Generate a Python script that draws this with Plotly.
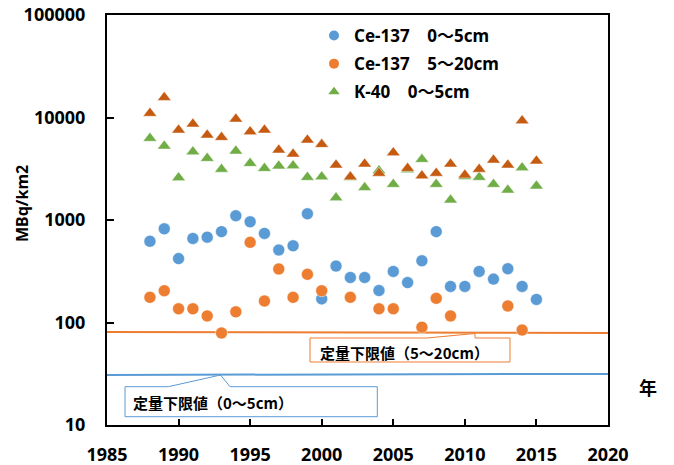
import plotly.graph_objects as go

# ---------------- data ----------------
years = list(range(1988, 2016))

cs137_0_5 = [620, 820, 420, 660, 680, 770, 1100, 960, 740, 510, 560, 1150, 170, 355,
             275, 275, 205, 315, 245, 400, 770, 225, 225, 315, 265, 335, 225, 168]

cs137_5_20 = [176, 204, 136, 136, 116, 79, 127, 605, 162, 333, 176, 295, 204, None,
              176, None, 136, 136, None, 90, 172, 116, None, None, None, 145, 84.5, None]

k40_0_5 = [6270, 5270, 2590, 4630, 4000, 3130, 4710, 3570, 3190, 3370, 3390, 2610, 2640, 1650,
           2600, 2070, 3030, 2230, 3100, 3910, 2230, 1570, 2650, 2610, 2230, 1960, 3240, 2150]

k40_5_20 = [11000, 15700, 7550, 8650, 6750, 6400, 9660, 7280, 7550, 4820, 4400, 6030, 5470, 3440,
            2640, 3520, 2860, 4540, 3190, 2700, 2860, 3520, 2750, 3130, 3850, 3440, 9310, 3770]

limit_x = [1985, 2020]
limit_5_20 = [81, 79]
limit_0_5 = [30.8, 31.5]

legend_names = ["Ce-137    0～5cm", "Ce-137    5～20cm", "K-40    0～5cm"]
x_ticks = [1985, 1990, 1995, 2000, 2005, 2010, 2015, 2020]
y_ticks = [10, 100, 1000, 10000, 100000]
y_ticktext = ["10", "100", "1000", "10000", "100000"]

# ---------------- style ----------------
BLUE = "#5B9BD5"
ORANGE = "#ED7D31"
GREEN = "#70AD47"
DARK = "#C55A11"
FONT = "Noto Sans, Noto Sans CJK JP"
JFONT = "Noto Sans CJK JP, Noto Sans"

# plot area in pixels
L, R, T, B = 107, 608, 15, 425
W, H = 674, 465


def px(x):
    return (x - L) / (R - L)


def py(y):
    return (B - y) / (B - T)


def path(points):
    s = "M " + " L ".join(f"{px(a):.5f},{py(b):.5f}" for a, b in points) + " Z"
    return s


fig = go.Figure()

# detection-limit lines
fig.add_trace(go.Scatter(x=limit_x, y=limit_5_20, mode="lines",
                         line=dict(color=ORANGE, width=2), showlegend=False, hoverinfo="skip"))
fig.add_trace(go.Scatter(x=limit_x, y=limit_0_5, mode="lines",
                         line=dict(color=BLUE, width=2), showlegend=False, hoverinfo="skip"))

# data series
fig.add_trace(go.Scatter(x=years, y=cs137_0_5, mode="markers", showlegend=False,
                         marker=dict(symbol="circle", size=12, color=BLUE,
                                     line=dict(color="white", width=0.5))))
fig.add_trace(go.Scatter(x=years, y=cs137_5_20, mode="markers", showlegend=False,
                         marker=dict(symbol="circle", size=12, color=ORANGE,
                                     line=dict(color="white", width=0.5))))
fig.add_trace(go.Scatter(x=years, y=k40_0_5, mode="markers", showlegend=False,
                         marker=dict(symbol="triangle-up", size=12, color=GREEN,
                                     line=dict(color="white", width=0.5))))
fig.add_trace(go.Scatter(x=years, y=k40_5_20, mode="markers", showlegend=False,
                         marker=dict(symbol="triangle-up", size=12, color=DARK,
                                     line=dict(color="white", width=0.5))))

# legend entries
for name, col, sym, grp in zip(legend_names, [BLUE, ORANGE, GREEN],
                                ["circle", "circle", "triangle-up"], ["a", "b", "c"]):
    fig.add_trace(go.Scatter(x=[None], y=[None], mode="markers", name=name,
                             legendgroup=grp,
                             marker=dict(symbol=sym, size=10, color=col)))

shapes = [
    dict(type="path", xref="paper", yref="paper",
         path=path([(310, 338), (427, 338), (475, 333.5), (475, 338), (510, 338),
                    (510, 362), (310, 362)]),
         line=dict(color=ORANGE, width=1), fillcolor="white", layer="above"),
    dict(type="path", xref="paper", yref="paper",
         path=path([(125, 386.7), (168.3, 386.7), (218.3, 375.5), (221, 375.5),
                    (230, 386.7), (377.3, 386.7), (377.3, 416.7), (125, 416.7)]),
         line=dict(color=BLUE, width=1), fillcolor="white", layer="above"),
]

annotations = [
    dict(text="定量下限値（5～20cm）", x=px(318), y=py(352), xref="paper", yref="paper",
         xanchor="left", yanchor="middle", showarrow=False,
         font=dict(family=JFONT, size=15, color="black", weight="bold")),
    dict(text="定量下限値（0～5cm）", x=px(131), y=py(402.7), xref="paper", yref="paper",
         xanchor="left", yanchor="middle", showarrow=False,
         font=dict(family=JFONT, size=15, color="black", weight="bold")),
    dict(text="<b>年</b>", x=px(648), y=py(387), xref="paper", yref="paper",
         xanchor="center", yanchor="middle", showarrow=False,
         font=dict(family=JFONT, size=18, color="black")),
    dict(text="<b>MBq/km2</b>", x=px(22), y=py(204), xref="paper", yref="paper",
         xanchor="center", yanchor="middle", showarrow=False, textangle=-90,
         font=dict(family=FONT, size=16, color="black")),
]

fig.update_layout(
    width=W, height=H,
    margin=dict(l=L, r=W - R, t=T, b=H - B),
    paper_bgcolor="white", plot_bgcolor="white",
    font=dict(family=FONT, color="black"),
    showlegend=True,
    legend=dict(x=px(314), y=py(18), xanchor="left", yanchor="top",
                bgcolor="rgba(0,0,0,0)", tracegroupgap=3,
                font=dict(family=FONT, size=17, color="black", weight="bold")),
    shapes=shapes,
    annotations=annotations,
    xaxis=dict(range=[1985, 2020], tickvals=x_ticks, showgrid=False, zeroline=False,
               automargin=False,
               showline=True, linecolor="black", linewidth=2, mirror=True,
               ticks="inside", ticklen=6, tickwidth=1.5, tickcolor="black",
               ticklabelstandoff=12,
               tickfont=dict(family=FONT, size=18, color="black", weight="bold")),
    yaxis=dict(type="log", range=[1, 5], tickvals=y_ticks, ticktext=y_ticktext,
               showgrid=False, zeroline=False, automargin=False,
               showline=True, linecolor="black", linewidth=2, mirror=True,
               ticks="inside", ticklen=7, tickwidth=1.5, tickcolor="black",
               ticklabelstandoff=16,
               tickfont=dict(family=FONT, size=18, color="black", weight="bold")),
)

fig.write_html("out.html")
